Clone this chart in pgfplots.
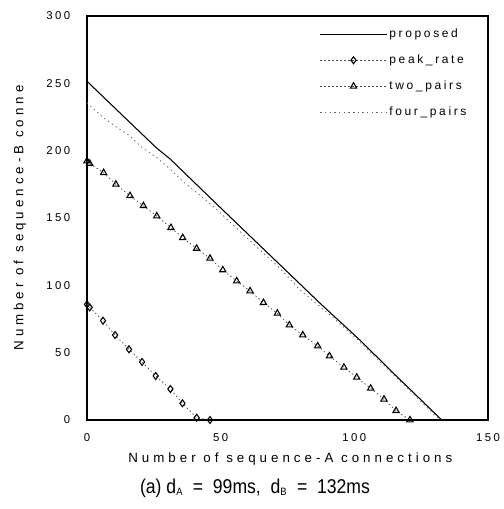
\documentclass[border=0pt]{standalone}
\usepackage{pgfplots}
\pgfplotsset{compat=1.18}
\usepackage{fontspec}
\setmainfont{Liberation Sans}[LetterSpace=22]
\newfontfamily\labfont{Liberation Sans}[LetterSpace=30]
\newfontfamily\capfont{Liberation Sans}
\usepackage{graphicx}
\begin{document}
\begin{tikzpicture}
\begin{axis}[name=ax,
  scale only axis, width=300.75pt, height=303pt,
  xmin=0, xmax=150, ymin=0, ymax=300,
  xtick={0,50,100,150}, ytick={0,50,100,150,200,250,300},
  major tick length=0pt,
  axis line style={line width=0.8pt},
  /pgf/number format/assume math mode=true,
  tick label style={font=\fontsize{8.5}{10}\selectfont},
  yticklabel style={xshift=-9pt},
  xticklabel style={yshift=-7pt},
  xlabel={Number of sequence-A connections},
  ylabel={Number of sequence-B conne},
  label style={font=\labfont\fontsize{10}{12}\selectfont},
  xlabel style={at={(axis description cs:0.507,-0.0965)}, anchor=center},
  ylabel style={at={(axis description cs:-0.167,0.5)}, anchor=center},
  legend cell align=left,
  legend style={at={(axis description cs:0.962,0.982)}, anchor=north east, draw=none, fill=none,
    font=\fontsize{9}{11}\selectfont, row sep=7.5pt, nodes={inner xsep=1.5pt}},
  legend image code/.code={\draw[mark repeat=2,mark phase=2,#1] plot coordinates {(0pt,0pt) (25pt,0pt) (50pt,0pt)};},
  clip=false
]
\addplot[black, line width=0.8pt] coordinates {
(0,251.5) (26,202) (31,194) (50,157.5) (76,108) (87,87) (102,59.5) (115,34) (132.7,0)};
\addlegendentry{proposed}
\addplot[black!70, dash pattern=on 1pt off 2pt, line width=0.6pt, mark=diamond, mark size=2.6pt,
  mark options={solid, black, fill=white, line width=0.8pt}] coordinates {
(0,85.9) (1,83.6) (6,73.7) (10.5,63.1) (15.7,52.5) (20.6,43.1) (25.7,32.7) (31.2,23) (35.7,12.4) (41,1.7) (46,0)};
\addlegendentry{peak\_rate}
\addplot[black!70, dash pattern=on 1pt off 2pt, line width=0.6pt, mark=triangle, mark size=2.7pt,
  mark options={solid, black, fill=white, line width=0.8pt}] coordinates {
(0,192.3) (1,190.5) (6.2,183.6) (10.8,175) (16.1,166.5) (21.1,159) (26.1,151.4) (31.4,142.8) (35.8,135.3) (41,127.4) (46,120) (50.8,111.4) (56,103.2) (61,95.8) (66,87.1) (71.2,79.2) (75.7,70.5) (80.7,63.1) (86.3,54.9) (90.7,47.5) (96.1,39.1) (100.9,31.7) (106.1,23.5) (111.1,15.4) (115.6,6.9) (120.8,0)};
\addlegendentry{two\_pairs}
\addplot[black!60, dash pattern=on 1pt off 2.5pt, line width=0.6pt] coordinates {
(0,235.6) (6,224.7) (11,217.5) (16,211) (20.5,202.5) (26,195) (31,186.5) (36,177) (47.3,158.5) (64.7,126.2) (72.2,112.6) (79.7,96.5) (90.9,78) (100.9,60.3) (132,0)};
\addlegendentry{four\_pairs}
\node[font=\capfont\fontsize{15}{17}\selectfont, anchor=center] at (axis description cs:0.419,-0.168)
  {\scalebox{0.88}[1]{(a) d\textsubscript{\fontsize{8}{9}\selectfont A} \ =\ \ 99ms, \ d\textsubscript{\fontsize{8}{9}\selectfont B} \ =\ \ 132ms}};
\end{axis}
\pgfresetboundingbox
\path ([xshift=-65.25pt,yshift=-66.75pt]ax.south west) rectangle ([xshift=11.25pt,yshift=12pt]ax.north east);
\end{tikzpicture}
\end{document}
